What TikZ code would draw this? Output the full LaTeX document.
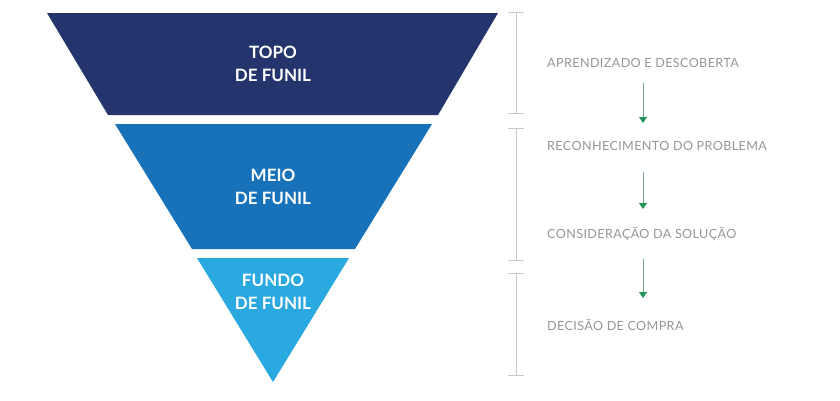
\documentclass[tikz,border=0pt]{standalone}
\usepackage{fontspec}
\setmainfont{Lato}
\newfontfamily\labelfont[LetterSpace=3]{Lato}
\usetikzlibrary{arrows.meta}
\definecolor{topc}{RGB}{36,52,108}
\definecolor{midc}{RGB}{24,114,186}
\definecolor{botc}{RGB}{42,168,224}
\definecolor{labc}{RGB}{150,150,150}
\definecolor{brc}{RGB}{200,200,200}
\definecolor{arrc}{RGB}{120,160,140}
\definecolor{headc}{RGB}{34,150,90}
\tikzset{
  funtext/.style={text=white,font=\bfseries\fontsize{17}{23}\selectfont,align=center},
  stagelab/.style={text=labc,font=\labelfont\fontsize{12.6}{14}\selectfont,anchor=west,inner sep=0pt},
  brack/.style={draw=brc,line width=0.8pt},
  flow/.style={draw=arrc,line width=0.8pt,-{Triangle[length=6pt,width=8pt,color=headc]}}
}
\begin{document}
\begin{tikzpicture}[x=1pt,y=-1pt]
\useasboundingbox (0,0) rectangle (840,400);
\fill[white] (0,0) rectangle (840,400);
% funnel
\fill[topc] (47,13) -- (498,13) -- (438,115) -- (108,115) -- cycle;
\fill[midc] (115,124) -- (432,124) -- (355,249) -- (192,249) -- cycle;
\fill[botc] (197,258) -- (349,258) -- (273,382) -- cycle;
\node[funtext] (t1) at (273,64) {TOPO\\DE FUNIL};
\node[funtext] (t2) at (273,187) {MEIO\\DE FUNIL};
\node[funtext] (t3) at (273,292) {FUNDO\\DE FUNIL};
% brackets
\draw[brack] (516,12) -- (516,113);
\draw[brack] (508,12) -- (524,12);
\draw[brack] (508,113) -- (524,113);
\draw[brack] (516,128) -- (516,260);
\draw[brack] (508,128) -- (524,128);
\draw[brack] (508,260) -- (524,260);
\draw[brack] (516,273) -- (516,375);
\draw[brack] (508,273) -- (524,273);
\draw[brack] (508,375) -- (524,375);
% labels
\node[stagelab] (l1) at (547,63) {APRENDIZADO E DESCOBERTA};
\node[stagelab] (l2) at (547,146) {RECONHECIMENTO DO PROBLEMA};
\node[stagelab] (l3) at (547,234) {CONSIDERAÇÃO DA SOLUÇÃO};
\node[stagelab] (l4) at (547,325) {DECISÃO DE COMPRA};
% arrows
\coordinate (a1s) at (643,83); \coordinate (a1e) at (643,123);
\coordinate (a2s) at (643,172); \coordinate (a2e) at (643,209);
\coordinate (a3s) at (643,259); \coordinate (a3e) at (643,298);
\draw[flow] (a1s) -- (a1e);
\draw[flow] (a2s) -- (a2e);
\draw[flow] (a3s) -- (a3e);
\end{tikzpicture}
\end{document}
